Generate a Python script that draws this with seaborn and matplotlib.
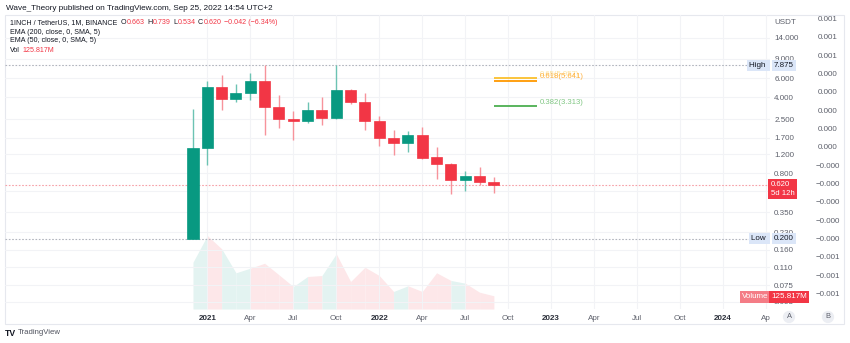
import numpy as np
import pandas as pd
import matplotlib
matplotlib.use("Agg")
import matplotlib.pyplot as plt
from matplotlib.ticker import FixedLocator, NullLocator, NullFormatter
import seaborn as sns

# ---------------- data ----------------
months = pd.period_range("2020-12", "2022-09", freq="M")
opens = [0.200, 1.36, 5.00, 3.86, 4.38, 5.68, 3.23, 2.55, 2.41, 3.07, 2.56, 4.63,
         3.60, 2.41, 1.69, 1.51, 1.79, 1.12, 0.970, 0.696, 0.756, 0.663]
highs = [3.10, 5.64, 6.40, 5.30, 6.72, 7.875, 4.20, 2.99, 3.64, 4.05, 7.86, 4.76,
         4.35, 2.69, 2.00, 1.96, 2.13, 1.41, 1.00, 0.847, 0.910, 0.739]
lows = [0.200, 0.955, 3.06, 3.60, 3.77, 1.79, 2.07, 1.62, 2.33, 2.24, 2.50, 3.45,
        2.01, 1.43, 1.19, 1.25, 1.09, 0.710, 0.514, 0.548, 0.620, 0.534]
closes = [1.36, 5.00, 3.86, 4.38, 5.68, 3.23, 2.53, 2.41, 3.07, 2.56, 4.63, 3.60,
          2.41, 1.69, 1.51, 1.79, 1.11, 0.976, 0.696, 0.756, 0.662, 0.620]
volume_m = [446, 700, 574, 345, 389, 436, 326, 214, 310, 319, 526, 262,
            398, 319, 167, 221, 167, 345, 272, 246, 160, 125.817]

price_ticks = [14, 9, 6, 4, 2.5, 1.7, 1.2, 0.8, 0.35, 0.23, 0.16, 0.11, 0.075, 0.053]
hidden_grid = [0.55]
time_ticks = pd.period_range("2021-01", "2024-04", freq="M")[::3]
time_labels = ["2021", "Apr", "Jul", "Oct", "2022", "Apr", "Jul", "Oct",
               "2023", "Apr", "Jul", "Oct", "2024", "Ap"]
year_labels = {"2021", "2022", "2023", "2024"}

fib_ratios = [0.65, 0.618, 0.382]
fib_prices = [5.957, 5.641, 3.313]
fib_start, fib_end = pd.Period("2022-09", "M"), pd.Period("2022-12", "M")

osc_labels = ["0.001"] * 3 + ["0.000"] * 5 + ["\u22120.000"] * 5 + ["\u22120.001"] * 3

price_high, price_low, price_last = 7.875, 0.200, 0.620

# ---------------- style ----------------
sns.set_theme(style="white")
plt.rcParams["font.family"] = ["Liberation Sans", "DejaVu Sans"]
plt.rcParams["axes.unicode_minus"] = True

GREEN = "#089981"
RED = "#f23645"
GREEN_W = "#6cc3b3"
RED_W = "#f7939b"
GREEN_V = "#e3f3f1"
RED_V = "#fde7e9"
GRID = "#f2f3f6"
TXT = "#131722"
AXT = "#5d606b"

W, H = 850, 343
fig = plt.figure(figsize=(W / 100, H / 100), dpi=100)
fig.patch.set_facecolor("white")


def fx(px):
    return px / W


def fy(py):
    return 1 - py / H


pane_top, pane_bot, pane_left, pane_right = 15, 309, 5, 770
rect = [fx(pane_left), fy(pane_bot), fx(pane_right - pane_left), (pane_bot - pane_top) / H]

x = np.array([p.ordinal for p in months], dtype=float)
x0 = months[0].ordinal
xlim = (x0 - 13.12, x0 + 40.27)

# volume pane behind the prices
axv = fig.add_axes(rect, zorder=1)
axv.set_xlim(*xlim)
axv.set_ylim(0, 9.53 * (pane_bot - pane_top))
axv.axis("off")
vol = np.array(volume_m)
up = np.array(closes) >= np.array(opens)
for i in range(len(x) - 1):
    col = GREEN_V if up[i + 1] else RED_V
    axv.fill_between(x[i:i + 2], 0, vol[i:i + 2], color=col, lw=0)

# price pane
ax = fig.add_axes(rect, zorder=2)
ax.patch.set_alpha(0)
ax.set_yscale("log")
ax.set_xlim(*xlim)
ax.set_ylim(14 * np.exp(-271 / 47.3), 14 * np.exp(23 / 47.3))
for s in ax.spines.values():
    s.set_visible(False)

# grid
xt = [p.ordinal for p in time_ticks]
for v in xt:
    ax.axvline(v, color=GRID, lw=0.8, zorder=0)
for v in price_ticks + hidden_grid:
    ax.axhline(v, color=GRID, lw=0.8, zorder=0)

# reference lines
ax.axhline(price_high, color="#b2b5be", lw=0.8, ls=(0, (1.5, 1.5)), zorder=1)
ax.axhline(price_low, color="#b2b5be", lw=0.8, ls=(0, (1.5, 1.5)), zorder=1)
ax.axhline(price_last, color="#f7a1a8", lw=0.8, ls=(0, (1.5, 1.5)), zorder=1)

# candles
o = np.array(opens)
c = np.array(closes)
body_col = [GREEN if u else RED for u in up]
wick_col = [GREEN_W if u else RED_W for u in up]
ax.vlines(x, lows, highs, colors=wick_col, lw=1.0, zorder=3)
ax.bar(x, np.abs(c - o), bottom=np.minimum(o, c), width=0.77,
       color=body_col, edgecolor=body_col, lw=0.5, zorder=4)

# fibonacci levels
fib_cols = ["#fbc02d", "#ff9800", "#4caf50"]
fib_alpha = [0.45, 0.75, 0.7]
for r, p, col, a in zip(fib_ratios, fib_prices, fib_cols, fib_alpha):
    ax.hlines(p, fib_start.ordinal, fib_end.ordinal, color=col, lw=1.3, zorder=3)
    ax.annotate(f"{r}({p:.3f})", (fib_end.ordinal, p), xytext=(3, 4),
                textcoords="offset pixels", color=col, alpha=a, fontsize=5.6,
                va="center", ha="left")

# axes ticks
ax.yaxis.tick_right()
ax.yaxis.set_major_locator(FixedLocator(price_ticks))
ax.yaxis.set_minor_locator(NullLocator())
ax.yaxis.set_minor_formatter(NullFormatter())
ax.set_yticklabels([f"{v:.3f}" for v in price_ticks])
ax.tick_params(axis="y", length=0, pad=3, labelsize=5.8, labelcolor=AXT)
ax.set_xticks(xt)
ax.set_xticklabels(time_labels)
ax.tick_params(axis="x", length=0, pad=4, labelsize=5.8, labelcolor=AXT)
for t in ax.get_xticklabels():
    if t.get_text() in year_labels:
        t.set_fontweight("bold")
        t.set_color("#2a2e39")

# oscillator-style second scale
axo = fig.add_axes([fx(805), fy(pane_bot), fx(45), (pane_bot - pane_top) / H], zorder=2)
axo.axis("off")
axo.set_ylim(0.00072 - (pane_bot - 19.3) * 0.0001 / 18.35,
             0.00072 + (19.3 - pane_top) * 0.0001 / 18.35)
for k, lab in enumerate(osc_labels):
    axo.text(0.5, 0.00072 - 0.0001 * k, lab, transform=axo.get_yaxis_transform(),
             ha="center", va="center", fontsize=5.8, color=AXT)


# price-scale badges
def badge(px, py, s, fc, tc, size=5.8):
    fig.text(fx(px), fy(py), s, color=tc, fontsize=size, ha="left", va="center",
             bbox=dict(boxstyle="square,pad=0.25", fc=fc, ec="none"), zorder=5)


def ypx(v):
    return 38 + 47.3 * np.log(14 / v)


fig.text(fx(774), fy(22), "USDT", fontsize=5.8, color=AXT, va="center")
badge(749, ypx(price_high), "High ", "#dbe6f8", TXT)
badge(774, ypx(price_high), f"{price_high:.3f}", "#dbe6f8", TXT)
badge(751, ypx(price_low), "Low ", "#dbe6f8", TXT)
badge(774, ypx(price_low), f"{price_low:.3f}", "#dbe6f8", TXT)
fig.text(fx(771), fy(189), f"{price_last:.3f}\n5d 12h", fontsize=5.6, color="white",
         ha="left", va="center", linespacing=1.25,
         bbox=dict(boxstyle="square,pad=0.35", fc=RED, ec="none"), zorder=5)
badge(742, 297, "Volume", "#f47c86", "white")
badge(771, 297, f"{volume_m[-1]:.3f}M", RED, "white")

# A / B buttons
for px, s in [(789, "A"), (828, "B")]:
    fig.text(fx(px), fy(317), s, fontsize=5.4, color=AXT, ha="center", va="center",
             bbox=dict(boxstyle="circle,pad=0.35", fc="#eceef3", ec="none"))

# outer frame
fig.add_artist(plt.Rectangle((fx(5), fy(324)), fx(839), (324 - 15) / H,
                             transform=fig.transFigure, fill=False,
                             ec="#e6e8ee", lw=0.8, zorder=0))

# header
renderer = fig.canvas.get_renderer()
HS = 5.1


def runs(px, py, parts, size=HS):
    for s, col, gap in parts:
        t = fig.text(fx(px), fy(py), s, color=col, fontsize=size, ha="left", va="center")
        px += t.get_window_extent(renderer=renderer).width + gap
    return px


fig.text(fx(6), fy(8), "Wave_Theory published on TradingView.com, Sep 25, 2022 14:54 UTC+2",
         fontsize=5.9, color=TXT, va="center")
chg = closes[-1] - closes[-2]
pct = chg / closes[-2] * 100
line = [("1INCH / TetherUS, 1M, BINANCE", TXT, 3.5)]
for a, v in [("O", opens[-1]), ("H", highs[-1]), ("L", lows[-1]), ("C", closes[-1])]:
    line += [(a, TXT, 0.3), (f"{v:.3f}", RED, 2.5)]
line += [(f"\u2212{abs(chg):.3f} (\u2212{abs(pct):.2f}%)", RED, 0)]
runs(10, 23, line)
fig.text(fx(10), fy(32), "EMA (200, close, 0, SMA, 5)", fontsize=HS, color=TXT, va="center")
fig.text(fx(10), fy(41), "EMA (50, close, 0, SMA, 5)", fontsize=HS, color=TXT, va="center")
runs(10, 50, [("Vol", TXT, 3), (f"{volume_m[-1]:.3f}M", RED, 0)])

# footer logo
fig.text(fx(5), fy(333), "TV", fontsize=6.2, fontweight="black", color=TXT, va="center")
fig.text(fx(18), fy(333), "TradingView", fontsize=5.6, color="#50535e", va="center")

fig.savefig("out.png", dpi=100, facecolor="white")
